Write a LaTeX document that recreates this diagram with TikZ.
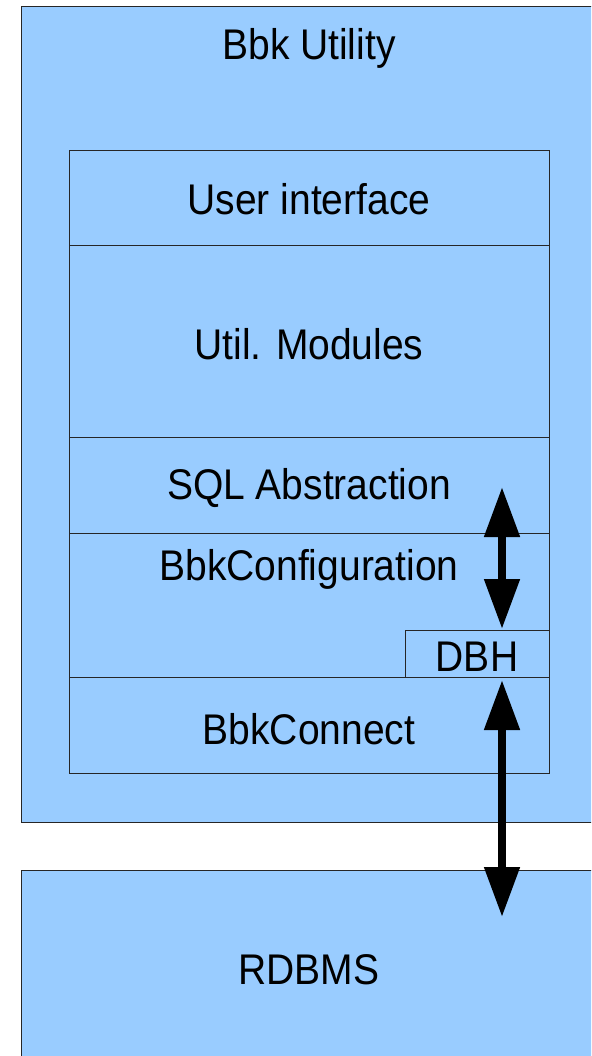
\documentclass[tikz,border=0pt]{standalone}
\usepackage{fontspec}
\setmainfont{Liberation Sans}
\usetikzlibrary{arrows.meta}
\definecolor{boxblue}{HTML}{99CCFF}
\tikzstyle{every node}=[font=\fontsize{39}{47}\selectfont, inner sep=0pt, yscale=1.1]
\tikzstyle{layer}=[draw=black!85, fill=boxblue, line width=0.8pt]
\tikzstyle{link}=[line width=8pt, {Triangle[width=34pt,length=50pt]}-{Triangle[width=34pt,length=50pt]}]

\begin{document}
\begin{tikzpicture}[x=1pt, y=-1pt]
    \clip (0,0) rectangle (591,1056);
    \fill[white] (0,0) rectangle (591,1056);
% Outer boxes
    \draw[layer] (21,6) rectangle (620,822);
    \draw[layer] (21,870) rectangle (620,1080);
% Layers
    \draw[layer] (69,150) rectangle (549,245);
    \draw[layer] (69,245) rectangle (549,437);
    \draw[layer] (69,437) rectangle (549,533);
    \draw[layer] (69,533) rectangle (549,677);
    \draw[layer] (405,630) rectangle (549,677);
    \draw[layer] (69,677) rectangle (549,773);
% Labels
    \node (util) at (309,48) {Bbk Utility};
    \node (ui) at (309,199) {User interface};
    \node (mods) at (309,344) {Util. Modules};
    \node (sql) at (309,488) {SQL Abstraction};
    \node (conf) at (309,569) {BbkConfiguration};
    \node (dbh) at (477,657) {DBH};
    \node (conn) at (309,729) {BbkConnect};
    \node (rdbms) at (309,970) {RDBMS};
% Arrows
    \coordinate (sqltip) at (502,487);
    \coordinate (dbhtop) at (502,629);
    \coordinate (dbhbot) at (502,680);
    \coordinate (dbtip) at (502,917);
    \draw[link] (sqltip) -- (dbhtop);
    \draw[link] (dbhbot) -- (dbtip);
\end{tikzpicture}
\end{document}
